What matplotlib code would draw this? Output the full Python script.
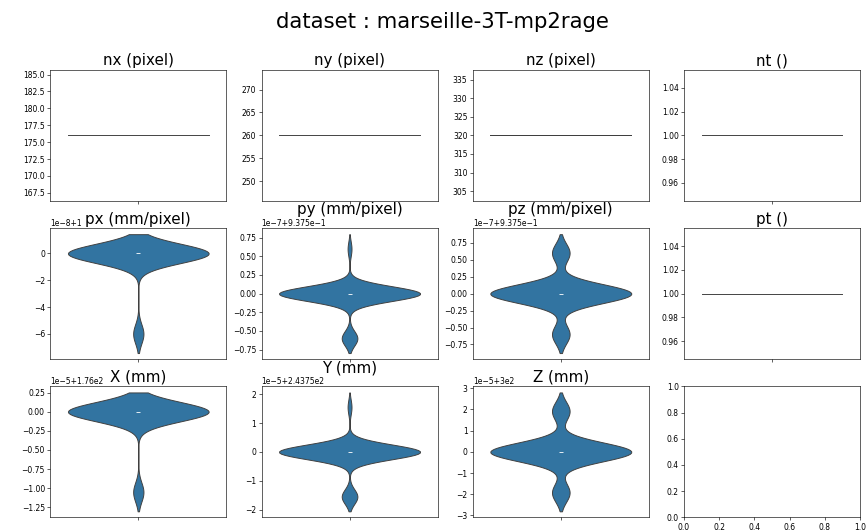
import numpy as np
import matplotlib
matplotlib.use("Agg")
import matplotlib.pyplot as plt
import seaborn as sns

dataset = "marseille-3T-mp2rage"

# metric names, in the order of the grid
metrics = ["nx (pixel)", "ny (pixel)", "nz (pixel)", "nt ()",
           "px (mm/pixel)", "py (mm/pixel)", "pz (mm/pixel)", "pt ()",
           "X (mm)", "Y (mm)", "Z (mm)"]

# distinct values seen per subject, and how many subjects have each
nx_values, nx_counts = [176], [44]
ny_values, ny_counts = [260], [44]
nz_values, nz_counts = [320], [44]
nt_values, nt_counts = [1], [44]
px_values, px_counts = [1.0, 1.0 - 6e-8], [41, 3]
py_values, py_counts = [0.9375, 0.9375 - 6e-8, 0.9375 + 6e-8], [36, 4, 1]
pz_values, pz_counts = [0.9375, 0.9375 - 6e-8, 0.9375 + 6e-8], [24, 3, 3]
pt_values, pt_counts = [1], [44]
X_values, X_counts = [176.0, 176.0 - 1.05e-5], [41, 3]
Y_values, Y_counts = [243.75, 243.75 - 1.55e-5, 243.75 + 1.55e-5], [36, 4, 1]
Z_values, Z_counts = [300.0, 300.0 - 1.92e-5, 300.0 + 1.92e-5], [24, 3, 3]

all_values = [nx_values, ny_values, nz_values, nt_values,
              px_values, py_values, pz_values, pt_values,
              X_values, Y_values, Z_values]
all_counts = [nx_counts, ny_counts, nz_counts, nt_counts,
              px_counts, py_counts, pz_counts, pt_counts,
              X_counts, Y_counts, Z_counts]

# big figure saved at a low dpi, so the text looks like the downscaled original
dpi = 54.55
fig, axes = plt.subplots(3, 4, figsize=(867 / dpi, 530 / dpi))
fig.subplots_adjust(left=0.058, right=0.992, top=0.868, bottom=0.024,
                    wspace=0.2, hspace=0.21)
fig.suptitle("dataset : " + dataset, fontsize=28, x=0.51, y=0.978)

for i, ax in enumerate(axes.flat):
    if i >= len(metrics):
        continue
    data = np.repeat(np.array(all_values[i], dtype=float), all_counts[i])
    # a single repeated value only gives a flat line
    inner = "box" if len(all_values[i]) > 1 else None
    sns.violinplot(y=data, ax=ax, inner=inner)
    ax.set_title(metrics[i], fontsize=20)
    ax.set_ylabel("")

fig.savefig("out.png", dpi=dpi)
